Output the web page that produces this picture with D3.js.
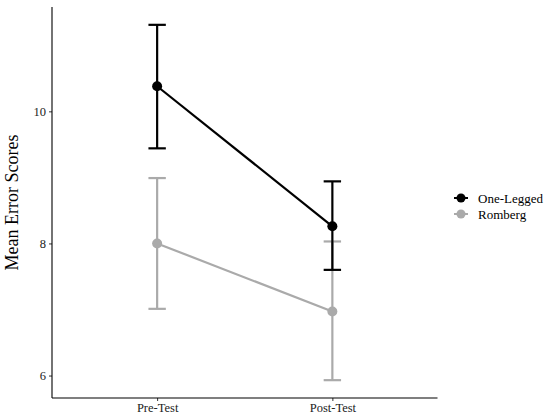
<!DOCTYPE html>
<html>
<head>
<meta charset="utf-8">
<script src="https://d3js.org/d3.v7.min.js"></script>
<style>
  body { margin: 0; background: #fff; }
  text { font-family: "Liberation Serif", "Times New Roman", serif; }
</style>
</head>
<body>
<svg width="550" height="417"></svg>
<script>
// data
var phases = ["Pre-Test", "Post-Test"];
var groups = ["One-Legged", "Romberg"];
var colors = ["#000000", "#aaaaaa"];
var oneLeggedMean = [10.38, 8.26];
var oneLeggedLow = [9.44, 7.60];
var oneLeggedHigh = [11.31, 8.94];
var rombergMean = [8.00, 6.97];
var rombergLow = [7.01, 5.93];
var rombergHigh = [8.99, 8.03];
var yTicks = [6, 8, 10];

var series = [
  { name: groups[0], color: colors[0], mean: oneLeggedMean, lo: oneLeggedLow, hi: oneLeggedHigh },
  { name: groups[1], color: colors[1], mean: rombergMean, lo: rombergLow, hi: rombergHigh }
];

var svg = d3.select("svg");
var plotLeft = 52, plotRight = 437.5, plotTop = 7, plotBottom = 398;

var x = d3.scalePoint().domain(phases).range([plotLeft, plotRight]).padding(0.6);
var y = d3.scaleLinear().domain([5.66, 11.58]).range([plotBottom, plotTop]);

// axes
var yAxis = svg.append("g")
  .attr("transform", "translate(" + plotLeft + ",0)")
  .call(d3.axisLeft(y).tickValues(yTicks).tickFormat(d3.format("d")).tickSize(3).tickPadding(3));
var xAxis = svg.append("g")
  .attr("transform", "translate(0," + plotBottom + ")")
  .call(d3.axisBottom(x).tickSize(3).tickPadding(2));
[yAxis, xAxis].forEach(function(g) {
  g.select(".domain").remove();
  g.selectAll("line").attr("stroke", "#333");
  g.selectAll("text").attr("fill", "#222").style("font-size", "12.5px")
    .style("font-family", "'Liberation Serif', serif");
});
svg.append("line").attr("x1", plotLeft).attr("x2", plotLeft).attr("y1", plotTop).attr("y2", plotBottom)
  .attr("stroke", "#000").attr("stroke-width", 1.1);
svg.append("line").attr("x1", plotLeft).attr("x2", plotRight).attr("y1", plotBottom).attr("y2", plotBottom)
  .attr("stroke", "#000").attr("stroke-width", 1.1);

svg.append("text")
  .attr("transform", "translate(18," + ((plotTop + plotBottom) / 2) + ") rotate(-90)")
  .attr("text-anchor", "middle")
  .style("font-size", "18px")
  .attr("fill", "#000")
  .text("Mean Error Scores");

var capW = 8.7;
var line = d3.line().x(function(d) { return x(d.p); }).y(function(d) { return y(d.v); });

// draw Romberg first then One-Legged on top
series.slice().reverse().forEach(function(s) {
  var g = svg.append("g");
  var pts = phases.map(function(p, i) { return { p: p, v: s.mean[i], lo: s.lo[i], hi: s.hi[i] }; });
  pts.forEach(function(d) {
    g.append("line").attr("x1", x(d.p)).attr("x2", x(d.p)).attr("y1", y(d.lo)).attr("y2", y(d.hi))
      .attr("stroke", s.color).attr("stroke-width", 2.2);
    [d.lo, d.hi].forEach(function(v) {
      g.append("line").attr("x1", x(d.p) - capW).attr("x2", x(d.p) + capW)
        .attr("y1", y(v)).attr("y2", y(v))
        .attr("stroke", s.color).attr("stroke-width", 2.2);
    });
  });
  g.append("path").datum(pts).attr("d", line)
    .attr("fill", "none").attr("stroke", s.color).attr("stroke-width", 2.2);
  g.selectAll("circle").data(pts).enter().append("circle")
    .attr("cx", function(d) { return x(d.p); })
    .attr("cy", function(d) { return y(d.v); })
    .attr("r", 5)
    .attr("fill", s.color);
});

// legend
var legend = svg.append("g").attr("transform", "translate(461,198)");
series.forEach(function(s, i) {
  var row = legend.append("g").attr("transform", "translate(0," + (i * 16) + ")");
  row.append("line").attr("x1", -7).attr("x2", 7).attr("stroke", s.color).attr("stroke-width", 2);
  row.append("circle").attr("r", 4.5).attr("fill", s.color);
  row.append("text").attr("x", 17).attr("y", 4.5).style("font-size", "13px")
    .attr("fill", "#000").text(s.name);
});
</script>
</body>
</html>
